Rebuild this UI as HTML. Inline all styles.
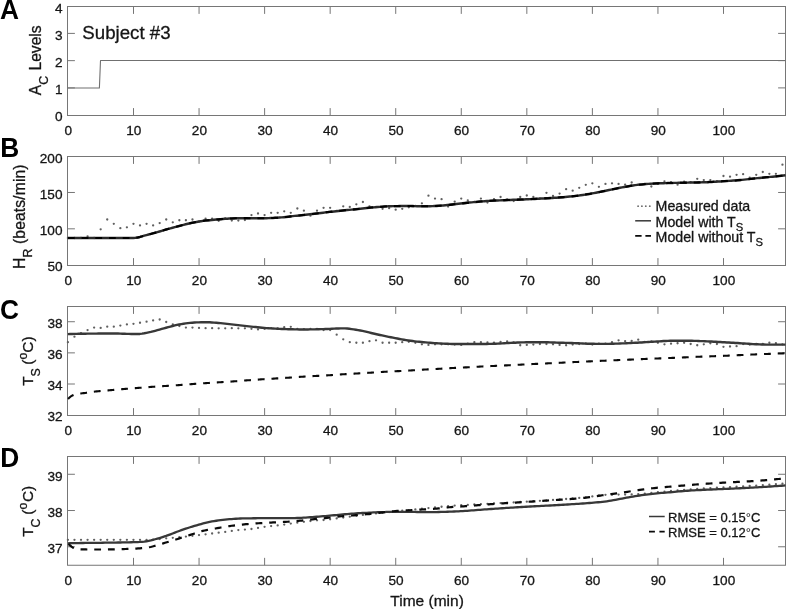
<!DOCTYPE html>
<html lang="en">
<head>
<meta charset="utf-8">
<title>Subject #3 model vs measured data</title>
<style>
html,body{margin:0;padding:0;background:#fff;}
body{width:786px;height:609px;overflow:hidden;font-family:"Liberation Sans",sans-serif;}
svg{display:block;}
</style>
</head>
<body>
<svg width="786" height="609" viewBox="0 0 786 609">
<rect width="786" height="609" fill="#fff"/>
<g font-family='"Liberation Sans", sans-serif'>
<g fill="none" stroke="#767676" stroke-width="1">
<path d="M133.5 115.5v-7.4M133.5 6.5v7.4M199.05 115.5v-7.4M199.05 6.5v7.4M264.61 115.5v-7.4M264.61 6.5v7.4M330.16 115.5v-7.4M330.16 6.5v7.4M395.72 115.5v-7.4M395.72 6.5v7.4M461.28 115.5v-7.4M461.28 6.5v7.4M526.83 115.5v-7.4M526.83 6.5v7.4M592.39 115.5v-7.4M592.39 6.5v7.4M657.94 115.5v-7.4M657.94 6.5v7.4M723.5 115.5v-7.4M723.5 6.5v7.4M67.5 87.9h7.4M785.5 87.9h-7.4M67.5 60.65h7.4M785.5 60.65h-7.4M67.5 33.4h7.4M785.5 33.4h-7.4"/>
<rect x="67.5" y="6.5" width="718" height="109"/>
</g>
<g font-size="13.6" fill="#151515" stroke="#151515" stroke-width="0.3">
<g text-anchor="middle">
<text x="68.3" y="135.4">0</text>
<text x="133.86" y="135.4">10</text>
<text x="199.41" y="135.4">20</text>
<text x="264.97" y="135.4">30</text>
<text x="330.52" y="135.4">40</text>
<text x="396.08" y="135.4">50</text>
<text x="461.64" y="135.4">60</text>
<text x="527.19" y="135.4">70</text>
<text x="592.75" y="135.4">80</text>
<text x="658.3" y="135.4">90</text>
<text x="723.86" y="135.4">100</text>
</g>
<g text-anchor="end">
<text x="62.5" y="121.1">0</text>
<text x="62.5" y="94.35">1</text>
<text x="62.5" y="67.1">2</text>
<text x="62.5" y="39.85">3</text>
<text x="62.5" y="12.6">4</text>
</g></g>
<g fill="none" stroke="#767676" stroke-width="1">
<path d="M133.5 265.5v-7.4M133.5 156.5v7.4M199.05 265.5v-7.4M199.05 156.5v7.4M264.61 265.5v-7.4M264.61 156.5v7.4M330.16 265.5v-7.4M330.16 156.5v7.4M395.72 265.5v-7.4M395.72 156.5v7.4M461.28 265.5v-7.4M461.28 156.5v7.4M526.83 265.5v-7.4M526.83 156.5v7.4M592.39 265.5v-7.4M592.39 156.5v7.4M657.94 265.5v-7.4M657.94 156.5v7.4M723.5 265.5v-7.4M723.5 156.5v7.4M67.5 228.82h7.4M785.5 228.82h-7.4M67.5 192.48h7.4M785.5 192.48h-7.4"/>
<rect x="67.5" y="156.5" width="718" height="109"/>
</g>
<g font-size="13.6" fill="#151515" stroke="#151515" stroke-width="0.3">
<g text-anchor="middle">
<text x="68.3" y="285.4">0</text>
<text x="133.86" y="285.4">10</text>
<text x="199.41" y="285.4">20</text>
<text x="264.97" y="285.4">30</text>
<text x="330.52" y="285.4">40</text>
<text x="396.08" y="285.4">50</text>
<text x="461.64" y="285.4">60</text>
<text x="527.19" y="285.4">70</text>
<text x="592.75" y="285.4">80</text>
<text x="658.3" y="285.4">90</text>
<text x="723.86" y="285.4">100</text>
</g>
<g text-anchor="end">
<text x="62.5" y="271.1">50</text>
<text x="62.5" y="235.27">100</text>
<text x="62.5" y="198.93">150</text>
<text x="62.5" y="162.6">200</text>
</g></g>
<g fill="none" stroke="#767676" stroke-width="1">
<path d="M133.5 415.5v-7.4M133.5 306.5v7.4M199.05 415.5v-7.4M199.05 306.5v7.4M264.61 415.5v-7.4M264.61 306.5v7.4M330.16 415.5v-7.4M330.16 306.5v7.4M395.72 415.5v-7.4M395.72 306.5v7.4M461.28 415.5v-7.4M461.28 306.5v7.4M526.83 415.5v-7.4M526.83 306.5v7.4M592.39 415.5v-7.4M592.39 306.5v7.4M657.94 415.5v-7.4M657.94 306.5v7.4M723.5 415.5v-7.4M723.5 306.5v7.4M67.5 384.01h7.4M785.5 384.01h-7.4M67.5 352.86h7.4M785.5 352.86h-7.4M67.5 321.72h7.4M785.5 321.72h-7.4"/>
<rect x="67.5" y="306.5" width="718" height="109"/>
</g>
<g font-size="13.6" fill="#151515" stroke="#151515" stroke-width="0.3">
<g text-anchor="middle">
<text x="68.3" y="435.4">0</text>
<text x="133.86" y="435.4">10</text>
<text x="199.41" y="435.4">20</text>
<text x="264.97" y="435.4">30</text>
<text x="330.52" y="435.4">40</text>
<text x="396.08" y="435.4">50</text>
<text x="461.64" y="435.4">60</text>
<text x="527.19" y="435.4">70</text>
<text x="592.75" y="435.4">80</text>
<text x="658.3" y="435.4">90</text>
<text x="723.86" y="435.4">100</text>
</g>
<g text-anchor="end">
<text x="62.5" y="421.1">32</text>
<text x="62.5" y="390.46">34</text>
<text x="62.5" y="359.31">36</text>
<text x="62.5" y="328.17">38</text>
</g></g>
<g fill="none" stroke="#767676" stroke-width="1">
<path d="M133.5 565.25v-7.4M133.5 456.5v7.4M199.05 565.25v-7.4M199.05 456.5v7.4M264.61 565.25v-7.4M264.61 456.5v7.4M330.16 565.25v-7.4M330.16 456.5v7.4M395.72 565.25v-7.4M395.72 456.5v7.4M461.28 565.25v-7.4M461.28 456.5v7.4M526.83 565.25v-7.4M526.83 456.5v7.4M592.39 565.25v-7.4M592.39 456.5v7.4M657.94 565.25v-7.4M657.94 456.5v7.4M723.5 565.25v-7.4M723.5 456.5v7.4M67.5 546.77h7.4M785.5 546.77h-7.4M67.5 510.52h7.4M785.5 510.52h-7.4M67.5 474.27h7.4M785.5 474.27h-7.4"/>
<rect x="67.5" y="456.5" width="718" height="108.75"/>
</g>
<g font-size="13.6" fill="#151515" stroke="#151515" stroke-width="0.3">
<g text-anchor="middle">
<text x="68.3" y="585.4">0</text>
<text x="133.86" y="585.4">10</text>
<text x="199.41" y="585.4">20</text>
<text x="264.97" y="585.4">30</text>
<text x="330.52" y="585.4">40</text>
<text x="396.08" y="585.4">50</text>
<text x="461.64" y="585.4">60</text>
<text x="527.19" y="585.4">70</text>
<text x="592.75" y="585.4">80</text>
<text x="658.3" y="585.4">90</text>
<text x="723.86" y="585.4">100</text>
</g>
<g text-anchor="end">
<text x="62.5" y="553.23">37</text>
<text x="62.5" y="516.98">38</text>
<text x="62.5" y="480.73">39</text>
</g></g>
<path d="M67.5 88H99.4L100.5 60.5H785.5" fill="none" stroke="#707070" stroke-width="1.1" stroke-linejoin="round"/>
<g fill="#606060">
<circle cx="67.9" cy="237.99" r="1.15"/>
<circle cx="74.46" cy="237.99" r="1.15"/>
<circle cx="81.01" cy="237.99" r="1.15"/>
<circle cx="87.57" cy="236.32" r="1.15"/>
<circle cx="94.12" cy="237.99" r="1.15"/>
<circle cx="100.68" cy="229.3" r="1.15"/>
<circle cx="107.23" cy="219.52" r="1.15"/>
<circle cx="113.79" cy="223.87" r="1.15"/>
<circle cx="120.34" cy="228.21" r="1.15"/>
<circle cx="126.9" cy="227.34" r="1.15"/>
<circle cx="133.46" cy="223.87" r="1.15"/>
<circle cx="140.01" cy="225.39" r="1.15"/>
<circle cx="146.57" cy="223.87" r="1.15"/>
<circle cx="153.12" cy="225.39" r="1.15"/>
<circle cx="159.68" cy="223.07" r="1.15"/>
<circle cx="166.23" cy="219.52" r="1.15"/>
<circle cx="172.79" cy="222.35" r="1.15"/>
<circle cx="179.35" cy="220.25" r="1.15"/>
<circle cx="185.9" cy="220.25" r="1.15"/>
<circle cx="192.46" cy="219.52" r="1.15"/>
<circle cx="199.01" cy="221.7" r="1.15"/>
<circle cx="205.57" cy="218.73" r="1.15"/>
<circle cx="212.12" cy="218.73" r="1.15"/>
<circle cx="218.68" cy="220.83" r="1.15"/>
<circle cx="225.23" cy="218.44" r="1.15"/>
<circle cx="231.79" cy="220.61" r="1.15"/>
<circle cx="238.35" cy="220.61" r="1.15"/>
<circle cx="244.9" cy="220.03" r="1.15"/>
<circle cx="251.46" cy="215.03" r="1.15"/>
<circle cx="258.01" cy="213.51" r="1.15"/>
<circle cx="264.57" cy="215.03" r="1.15"/>
<circle cx="271.12" cy="212.86" r="1.15"/>
<circle cx="277.68" cy="212.86" r="1.15"/>
<circle cx="284.23" cy="211.34" r="1.15"/>
<circle cx="290.79" cy="212.86" r="1.15"/>
<circle cx="297.35" cy="208.52" r="1.15"/>
<circle cx="303.9" cy="210.69" r="1.15"/>
<circle cx="310.46" cy="215.69" r="1.15"/>
<circle cx="317.01" cy="210.69" r="1.15"/>
<circle cx="323.57" cy="207.87" r="1.15"/>
<circle cx="330.12" cy="207.79" r="1.15"/>
<circle cx="336.68" cy="210.84" r="1.15"/>
<circle cx="343.24" cy="206.35" r="1.15"/>
<circle cx="349.79" cy="207" r="1.15"/>
<circle cx="356.35" cy="204.32" r="1.15"/>
<circle cx="362.9" cy="202" r="1.15"/>
<circle cx="369.46" cy="206.35" r="1.15"/>
<circle cx="376.01" cy="206.85" r="1.15"/>
<circle cx="382.57" cy="208.81" r="1.15"/>
<circle cx="389.12" cy="208.16" r="1.15"/>
<circle cx="395.68" cy="209.68" r="1.15"/>
<circle cx="402.24" cy="208.81" r="1.15"/>
<circle cx="408.79" cy="207.36" r="1.15"/>
<circle cx="415.35" cy="205.84" r="1.15"/>
<circle cx="421.9" cy="203.3" r="1.15"/>
<circle cx="428.46" cy="195.7" r="1.15"/>
<circle cx="435.01" cy="198.53" r="1.15"/>
<circle cx="441.57" cy="199.18" r="1.15"/>
<circle cx="448.12" cy="206.49" r="1.15"/>
<circle cx="454.68" cy="201.71" r="1.15"/>
<circle cx="461.24" cy="198.53" r="1.15"/>
<circle cx="467.79" cy="200.34" r="1.15"/>
<circle cx="474.35" cy="201.78" r="1.15"/>
<circle cx="480.9" cy="198.53" r="1.15"/>
<circle cx="487.46" cy="202.51" r="1.15"/>
<circle cx="494.01" cy="199.18" r="1.15"/>
<circle cx="500.57" cy="197" r="1.15"/>
<circle cx="507.13" cy="199.39" r="1.15"/>
<circle cx="513.68" cy="201.06" r="1.15"/>
<circle cx="520.24" cy="197" r="1.15"/>
<circle cx="526.79" cy="195.48" r="1.15"/>
<circle cx="533.35" cy="197" r="1.15"/>
<circle cx="539.9" cy="198.31" r="1.15"/>
<circle cx="546.46" cy="192.8" r="1.15"/>
<circle cx="553.01" cy="195.99" r="1.15"/>
<circle cx="559.57" cy="193.53" r="1.15"/>
<circle cx="566.13" cy="189.18" r="1.15"/>
<circle cx="572.68" cy="190.7" r="1.15"/>
<circle cx="579.24" cy="187.81" r="1.15"/>
<circle cx="585.79" cy="184.84" r="1.15"/>
<circle cx="592.35" cy="183.32" r="1.15"/>
<circle cx="598.9" cy="186.79" r="1.15"/>
<circle cx="605.46" cy="183.97" r="1.15"/>
<circle cx="612.01" cy="183.32" r="1.15"/>
<circle cx="618.57" cy="183.97" r="1.15"/>
<circle cx="625.13" cy="184.69" r="1.15"/>
<circle cx="631.68" cy="182.52" r="1.15"/>
<circle cx="638.24" cy="184.55" r="1.15"/>
<circle cx="644.79" cy="183.83" r="1.15"/>
<circle cx="651.35" cy="186.5" r="1.15"/>
<circle cx="657.9" cy="183.97" r="1.15"/>
<circle cx="664.46" cy="181.29" r="1.15"/>
<circle cx="671.02" cy="182.23" r="1.15"/>
<circle cx="677.57" cy="184.69" r="1.15"/>
<circle cx="684.13" cy="181.65" r="1.15"/>
<circle cx="690.68" cy="182.23" r="1.15"/>
<circle cx="697.24" cy="178.83" r="1.15"/>
<circle cx="703.79" cy="180.06" r="1.15"/>
<circle cx="710.35" cy="180.06" r="1.15"/>
<circle cx="716.9" cy="181.22" r="1.15"/>
<circle cx="723.46" cy="176.01" r="1.15"/>
<circle cx="730.02" cy="176.66" r="1.15"/>
<circle cx="736.57" cy="174.85" r="1.15"/>
<circle cx="743.13" cy="174.2" r="1.15"/>
<circle cx="749.68" cy="177.53" r="1.15"/>
<circle cx="756.24" cy="174.85" r="1.15"/>
<circle cx="762.79" cy="172.02" r="1.15"/>
<circle cx="769.35" cy="173.83" r="1.15"/>
<circle cx="775.9" cy="173.83" r="1.15"/>
<circle cx="782.46" cy="164.71" r="1.15"/>
</g>
<path d="M67.9 238 L70.08 238 L72.26 238 L74.45 238 L76.63 238 L78.81 238 L80.99 238 L83.17 238 L85.36 238 L87.54 238 L89.72 238 L91.9 238 L94.08 238 L96.26 238 L98.45 238 L100.63 238 L102.81 238 L104.99 238 L107.17 238 L109.36 238 L111.54 238 L113.72 238 L115.9 238 L118.08 238 L120.27 238 L122.45 238 L124.63 238 L126.81 238 L128.99 238 L131.17 238 L133.36 237.92 L135.54 237.77 L137.72 237.43 L139.9 236.94 L142.08 236.35 L144.27 235.68 L146.45 235.07 L148.63 234.49 L150.81 233.92 L152.99 233.35 L155.18 232.76 L157.36 232.14 L159.54 231.49 L161.72 230.82 L163.9 230.16 L166.08 229.53 L168.27 228.92 L170.45 228.32 L172.63 227.73 L174.81 227.15 L176.99 226.56 L179.18 225.97 L181.36 225.39 L183.54 224.82 L185.72 224.28 L187.9 223.78 L190.09 223.28 L192.27 222.81 L194.45 222.37 L196.63 221.95 L198.81 221.56 L200.99 221.18 L203.18 220.84 L205.36 220.57 L207.54 220.36 L209.72 220.17 L211.9 219.99 L214.09 219.79 L216.27 219.58 L218.45 219.36 L220.63 219.16 L222.81 218.96 L225 218.79 L227.18 218.66 L229.36 218.56 L231.54 218.47 L233.72 218.39 L235.9 218.32 L238.09 218.26 L240.27 218.21 L242.45 218.17 L244.63 218.16 L246.81 218.16 L249 218.18 L251.18 218.2 L253.36 218.23 L255.54 218.26 L257.72 218.28 L259.91 218.3 L262.09 218.3 L264.27 218.28 L266.45 218.23 L268.63 218.15 L270.81 218.05 L273 217.94 L275.18 217.81 L277.36 217.68 L279.54 217.54 L281.72 217.38 L283.91 217.17 L286.09 216.93 L288.27 216.67 L290.45 216.41 L292.63 216.15 L294.82 215.9 L297 215.67 L299.18 215.45 L301.36 215.22 L303.54 214.99 L305.72 214.77 L307.91 214.53 L310.09 214.29 L312.27 214.05 L314.45 213.78 L316.63 213.5 L318.82 213.22 L321 212.94 L323.18 212.66 L325.36 212.39 L327.54 212.14 L329.73 211.9 L331.91 211.66 L334.09 211.43 L336.27 211.2 L338.45 210.98 L340.63 210.75 L342.82 210.53 L345 210.3 L347.18 210.08 L349.36 209.86 L351.54 209.63 L353.73 209.41 L355.91 209.19 L358.09 208.97 L360.27 208.75 L362.45 208.52 L364.64 208.28 L366.82 208.04 L369 207.8 L371.18 207.58 L373.36 207.37 L375.54 207.19 L377.73 207.02 L379.91 206.85 L382.09 206.68 L384.27 206.52 L386.45 206.38 L388.64 206.26 L390.82 206.18 L393 206.14 L395.18 206.12 L397.36 206.11 L399.55 206.09 L401.73 206.08 L403.91 206.08 L406.09 206.07 L408.27 206.07 L410.46 206.07 L412.64 206.09 L414.82 206.12 L417 206.16 L419.18 206.2 L421.36 206.24 L423.55 206.27 L425.73 206.28 L427.91 206.27 L430.09 206.23 L432.27 206.14 L434.46 206.04 L436.64 205.91 L438.82 205.76 L441 205.61 L443.18 205.47 L445.37 205.29 L447.55 205.08 L449.73 204.84 L451.91 204.59 L454.09 204.33 L456.27 204.08 L458.46 203.84 L460.64 203.59 L462.82 203.34 L465 203.09 L467.18 202.84 L469.37 202.59 L471.55 202.36 L473.73 202.14 L475.91 201.94 L478.09 201.74 L480.28 201.55 L482.46 201.37 L484.64 201.19 L486.82 201.03 L489 200.88 L491.18 200.76 L493.37 200.64 L495.55 200.53 L497.73 200.44 L499.91 200.35 L502.09 200.26 L504.28 200.17 L506.46 200.08 L508.64 200 L510.82 199.91 L513 199.83 L515.19 199.75 L517.37 199.67 L519.55 199.59 L521.73 199.51 L523.91 199.42 L526.09 199.32 L528.28 199.22 L530.46 199.12 L532.64 199.01 L534.82 198.91 L537 198.79 L539.19 198.68 L541.37 198.56 L543.55 198.45 L545.73 198.33 L547.91 198.21 L550.1 198.08 L552.28 197.95 L554.46 197.81 L556.64 197.66 L558.82 197.51 L561 197.34 L563.19 197.17 L565.37 196.99 L567.55 196.79 L569.73 196.58 L571.91 196.37 L574.1 196.13 L576.28 195.88 L578.46 195.61 L580.64 195.31 L582.82 194.99 L585.01 194.66 L587.19 194.32 L589.37 193.96 L591.55 193.58 L593.73 193.17 L595.91 192.74 L598.1 192.29 L600.28 191.85 L602.46 191.4 L604.64 190.95 L606.82 190.51 L609.01 190.06 L611.19 189.6 L613.37 189.14 L615.55 188.69 L617.73 188.25 L619.92 187.82 L622.1 187.41 L624.28 187.01 L626.46 186.61 L628.64 186.21 L630.82 185.83 L633.01 185.47 L635.19 185.15 L637.37 184.87 L639.55 184.64 L641.73 184.43 L643.92 184.23 L646.1 184.05 L648.28 183.88 L650.46 183.73 L652.64 183.6 L654.83 183.49 L657.01 183.4 L659.19 183.32 L661.37 183.25 L663.55 183.18 L665.73 183.12 L667.92 183.06 L670.1 183.01 L672.28 182.95 L674.46 182.9 L676.64 182.85 L678.83 182.81 L681.01 182.76 L683.19 182.72 L685.37 182.67 L687.55 182.63 L689.74 182.58 L691.92 182.54 L694.1 182.5 L696.28 182.46 L698.46 182.41 L700.64 182.36 L702.83 182.31 L705.01 182.25 L707.19 182.17 L709.37 182.07 L711.55 181.95 L713.74 181.82 L715.92 181.68 L718.1 181.54 L720.28 181.41 L722.46 181.28 L724.65 181.15 L726.83 181.01 L729.01 180.88 L731.19 180.74 L733.37 180.59 L735.55 180.43 L737.74 180.26 L739.92 180.08 L742.1 179.87 L744.28 179.64 L746.46 179.39 L748.65 179.13 L750.83 178.87 L753.01 178.61 L755.19 178.37 L757.37 178.15 L759.56 177.93 L761.74 177.72 L763.92 177.51 L766.1 177.3 L768.28 177.1 L770.47 176.88 L772.65 176.67 L774.83 176.44 L777.01 176.22 L779.19 175.99 L781.37 175.76 L783.56 175.53 L785.5 175.29" fill="none" stroke="#2a2a2a" stroke-width="2.45" stroke-linejoin="round"/>
<path d="M67.9 238 L70.08 238 L72.26 238 L74.45 238 L76.63 238 L78.81 238 L80.99 238 L83.17 238 L85.36 238 L87.54 238 L89.72 238 L91.9 238 L94.08 238 L96.26 238 L98.45 238 L100.63 238 L102.81 238 L104.99 238 L107.17 238 L109.36 238 L111.54 238 L113.72 238 L115.9 238 L118.08 238 L120.27 238 L122.45 238 L124.63 238 L126.81 238 L128.99 238 L131.17 238 L133.36 237.92 L135.54 237.77 L137.72 237.43 L139.9 236.94 L142.08 236.35 L144.27 235.68 L146.45 235.07 L148.63 234.49 L150.81 233.92 L152.99 233.35 L155.18 232.76 L157.36 232.14 L159.54 231.49 L161.72 230.82 L163.9 230.16 L166.08 229.53 L168.27 228.92 L170.45 228.32 L172.63 227.73 L174.81 227.15 L176.99 226.56 L179.18 225.97 L181.36 225.39 L183.54 224.82 L185.72 224.28 L187.9 223.78 L190.09 223.28 L192.27 222.81 L194.45 222.37 L196.63 221.95 L198.81 221.56 L200.99 221.18 L203.18 220.84 L205.36 220.57 L207.54 220.36 L209.72 220.17 L211.9 219.99 L214.09 219.79 L216.27 219.58 L218.45 219.36 L220.63 219.16 L222.81 218.96 L225 218.79 L227.18 218.66 L229.36 218.56 L231.54 218.47 L233.72 218.39 L235.9 218.32 L238.09 218.26 L240.27 218.21 L242.45 218.17 L244.63 218.16 L246.81 218.16 L249 218.18 L251.18 218.2 L253.36 218.23 L255.54 218.26 L257.72 218.28 L259.91 218.3 L262.09 218.3 L264.27 218.28 L266.45 218.23 L268.63 218.15 L270.81 218.05 L273 217.94 L275.18 217.81 L277.36 217.68 L279.54 217.54 L281.72 217.38 L283.91 217.17 L286.09 216.93 L288.27 216.67 L290.45 216.41 L292.63 216.15 L294.82 215.9 L297 215.67 L299.18 215.45 L301.36 215.22 L303.54 214.99 L305.72 214.77 L307.91 214.53 L310.09 214.29 L312.27 214.05 L314.45 213.78 L316.63 213.5 L318.82 213.22 L321 212.94 L323.18 212.66 L325.36 212.39 L327.54 212.14 L329.73 211.9 L331.91 211.66 L334.09 211.43 L336.27 211.2 L338.45 210.98 L340.63 210.75 L342.82 210.53 L345 210.3 L347.18 210.08 L349.36 209.86 L351.54 209.63 L353.73 209.41 L355.91 209.19 L358.09 208.97 L360.27 208.75 L362.45 208.52 L364.64 208.28 L366.82 208.04 L369 207.8 L371.18 207.58 L373.36 207.37 L375.54 207.19 L377.73 207.02 L379.91 206.85 L382.09 206.68 L384.27 206.52 L386.45 206.38 L388.64 206.26 L390.82 206.18 L393 206.14 L395.18 206.12 L397.36 206.11 L399.55 206.09 L401.73 206.08 L403.91 206.08 L406.09 206.07 L408.27 206.07 L410.46 206.07 L412.64 206.09 L414.82 206.12 L417 206.16 L419.18 206.2 L421.36 206.24 L423.55 206.27 L425.73 206.28 L427.91 206.27 L430.09 206.23 L432.27 206.14 L434.46 206.04 L436.64 205.91 L438.82 205.76 L441 205.61 L443.18 205.47 L445.37 205.29 L447.55 205.08 L449.73 204.84 L451.91 204.59 L454.09 204.33 L456.27 204.08 L458.46 203.84 L460.64 203.59 L462.82 203.34 L465 203.09 L467.18 202.84 L469.37 202.59 L471.55 202.36 L473.73 202.14 L475.91 201.94 L478.09 201.74 L480.28 201.55 L482.46 201.37 L484.64 201.19 L486.82 201.03 L489 200.88 L491.18 200.76 L493.37 200.64 L495.55 200.53 L497.73 200.44 L499.91 200.35 L502.09 200.26 L504.28 200.17 L506.46 200.08 L508.64 200 L510.82 199.91 L513 199.83 L515.19 199.75 L517.37 199.67 L519.55 199.59 L521.73 199.51 L523.91 199.42 L526.09 199.32 L528.28 199.22 L530.46 199.12 L532.64 199.01 L534.82 198.91 L537 198.79 L539.19 198.68 L541.37 198.56 L543.55 198.45 L545.73 198.33 L547.91 198.21 L550.1 198.08 L552.28 197.95 L554.46 197.81 L556.64 197.66 L558.82 197.51 L561 197.34 L563.19 197.17 L565.37 196.99 L567.55 196.79 L569.73 196.58 L571.91 196.37 L574.1 196.13 L576.28 195.88 L578.46 195.61 L580.64 195.31 L582.82 194.99 L585.01 194.66 L587.19 194.32 L589.37 193.96 L591.55 193.58 L593.73 193.17 L595.91 192.74 L598.1 192.29 L600.28 191.85 L602.46 191.4 L604.64 190.95 L606.82 190.51 L609.01 190.06 L611.19 189.6 L613.37 189.14 L615.55 188.69 L617.73 188.25 L619.92 187.82 L622.1 187.41 L624.28 187.01 L626.46 186.61 L628.64 186.21 L630.82 185.83 L633.01 185.47 L635.19 185.15 L637.37 184.87 L639.55 184.64 L641.73 184.43 L643.92 184.23 L646.1 184.05 L648.28 183.88 L650.46 183.73 L652.64 183.6 L654.83 183.49 L657.01 183.4 L659.19 183.32 L661.37 183.25 L663.55 183.18 L665.73 183.12 L667.92 183.06 L670.1 183.01 L672.28 182.95 L674.46 182.9 L676.64 182.85 L678.83 182.81 L681.01 182.76 L683.19 182.72 L685.37 182.67 L687.55 182.63 L689.74 182.58 L691.92 182.54 L694.1 182.5 L696.28 182.46 L698.46 182.41 L700.64 182.36 L702.83 182.31 L705.01 182.25 L707.19 182.17 L709.37 182.07 L711.55 181.95 L713.74 181.82 L715.92 181.68 L718.1 181.54 L720.28 181.41 L722.46 181.28 L724.65 181.15 L726.83 181.01 L729.01 180.88 L731.19 180.74 L733.37 180.59 L735.55 180.43 L737.74 180.26 L739.92 180.08 L742.1 179.87 L744.28 179.64 L746.46 179.39 L748.65 179.13 L750.83 178.87 L753.01 178.61 L755.19 178.37 L757.37 178.15 L759.56 177.93 L761.74 177.72 L763.92 177.51 L766.1 177.3 L768.28 177.1 L770.47 176.88 L772.65 176.67 L774.83 176.44 L777.01 176.22 L779.19 175.99 L781.37 175.76 L783.56 175.53 L785.5 175.29" fill="none" stroke="#000" stroke-width="2.1" stroke-dasharray="6.8 6.9" stroke-linejoin="round"/>
<g fill="#606060">
<circle cx="67.9" cy="342.14" r="1.15"/>
<circle cx="74.46" cy="336.72" r="1.15"/>
<circle cx="81.01" cy="333.15" r="1.15"/>
<circle cx="87.57" cy="330.05" r="1.15"/>
<circle cx="94.12" cy="327.57" r="1.15"/>
<circle cx="100.68" cy="327.88" r="1.15"/>
<circle cx="107.23" cy="326.64" r="1.15"/>
<circle cx="113.79" cy="326.64" r="1.15"/>
<circle cx="120.34" cy="325.56" r="1.15"/>
<circle cx="126.9" cy="324.47" r="1.15"/>
<circle cx="133.46" cy="323.85" r="1.15"/>
<circle cx="140.01" cy="322.77" r="1.15"/>
<circle cx="146.57" cy="321.68" r="1.15"/>
<circle cx="153.12" cy="320.44" r="1.15"/>
<circle cx="159.68" cy="319.51" r="1.15"/>
<circle cx="166.23" cy="321.99" r="1.15"/>
<circle cx="172.79" cy="324.47" r="1.15"/>
<circle cx="179.35" cy="326.02" r="1.15"/>
<circle cx="185.9" cy="327.57" r="1.15"/>
<circle cx="192.46" cy="327.57" r="1.15"/>
<circle cx="199.01" cy="327.88" r="1.15"/>
<circle cx="205.57" cy="328.19" r="1.15"/>
<circle cx="212.12" cy="328.19" r="1.15"/>
<circle cx="218.68" cy="328.35" r="1.15"/>
<circle cx="225.23" cy="328.35" r="1.15"/>
<circle cx="231.79" cy="328.19" r="1.15"/>
<circle cx="238.35" cy="328.35" r="1.15"/>
<circle cx="244.9" cy="328.35" r="1.15"/>
<circle cx="251.46" cy="328.81" r="1.15"/>
<circle cx="258.01" cy="329.43" r="1.15"/>
<circle cx="264.57" cy="328.97" r="1.15"/>
<circle cx="271.12" cy="328.19" r="1.15"/>
<circle cx="277.68" cy="328.5" r="1.15"/>
<circle cx="284.23" cy="327.26" r="1.15"/>
<circle cx="290.79" cy="326.8" r="1.15"/>
<circle cx="297.35" cy="328.81" r="1.15"/>
<circle cx="303.9" cy="329.12" r="1.15"/>
<circle cx="310.46" cy="328.97" r="1.15"/>
<circle cx="317.01" cy="328.81" r="1.15"/>
<circle cx="323.57" cy="330.05" r="1.15"/>
<circle cx="330.12" cy="330.05" r="1.15"/>
<circle cx="336.68" cy="334.7" r="1.15"/>
<circle cx="343.24" cy="339.35" r="1.15"/>
<circle cx="349.79" cy="342.14" r="1.15"/>
<circle cx="356.35" cy="342.76" r="1.15"/>
<circle cx="362.9" cy="342.76" r="1.15"/>
<circle cx="369.46" cy="341.21" r="1.15"/>
<circle cx="376.01" cy="340.28" r="1.15"/>
<circle cx="382.57" cy="342.76" r="1.15"/>
<circle cx="389.12" cy="342.76" r="1.15"/>
<circle cx="395.68" cy="342.76" r="1.15"/>
<circle cx="402.24" cy="342.14" r="1.15"/>
<circle cx="408.79" cy="341.83" r="1.15"/>
<circle cx="415.35" cy="342.76" r="1.15"/>
<circle cx="421.9" cy="344.31" r="1.15"/>
<circle cx="428.46" cy="344.93" r="1.15"/>
<circle cx="435.01" cy="344.31" r="1.15"/>
<circle cx="441.57" cy="344.31" r="1.15"/>
<circle cx="448.12" cy="344.31" r="1.15"/>
<circle cx="454.68" cy="344.62" r="1.15"/>
<circle cx="461.24" cy="344.93" r="1.15"/>
<circle cx="467.79" cy="343.69" r="1.15"/>
<circle cx="474.35" cy="342.14" r="1.15"/>
<circle cx="480.9" cy="342.14" r="1.15"/>
<circle cx="487.46" cy="342.45" r="1.15"/>
<circle cx="494.01" cy="342.76" r="1.15"/>
<circle cx="500.57" cy="341.83" r="1.15"/>
<circle cx="507.13" cy="341.52" r="1.15"/>
<circle cx="513.68" cy="342.45" r="1.15"/>
<circle cx="520.24" cy="345.24" r="1.15"/>
<circle cx="526.79" cy="344.93" r="1.15"/>
<circle cx="533.35" cy="344.62" r="1.15"/>
<circle cx="539.9" cy="344" r="1.15"/>
<circle cx="546.46" cy="344" r="1.15"/>
<circle cx="553.01" cy="344.31" r="1.15"/>
<circle cx="559.57" cy="344.93" r="1.15"/>
<circle cx="566.13" cy="345.24" r="1.15"/>
<circle cx="572.68" cy="344.62" r="1.15"/>
<circle cx="579.24" cy="344" r="1.15"/>
<circle cx="585.79" cy="343.38" r="1.15"/>
<circle cx="592.35" cy="344.62" r="1.15"/>
<circle cx="598.9" cy="343.53" r="1.15"/>
<circle cx="605.46" cy="343.53" r="1.15"/>
<circle cx="612.01" cy="342.14" r="1.15"/>
<circle cx="618.57" cy="340.28" r="1.15"/>
<circle cx="625.13" cy="341.21" r="1.15"/>
<circle cx="631.68" cy="340.9" r="1.15"/>
<circle cx="638.24" cy="339.66" r="1.15"/>
<circle cx="644.79" cy="341.83" r="1.15"/>
<circle cx="651.35" cy="341.52" r="1.15"/>
<circle cx="657.9" cy="342.76" r="1.15"/>
<circle cx="664.46" cy="344.31" r="1.15"/>
<circle cx="671.02" cy="343.69" r="1.15"/>
<circle cx="677.57" cy="343.23" r="1.15"/>
<circle cx="684.13" cy="342.76" r="1.15"/>
<circle cx="690.68" cy="344" r="1.15"/>
<circle cx="697.24" cy="345.24" r="1.15"/>
<circle cx="703.79" cy="344.31" r="1.15"/>
<circle cx="710.35" cy="343.23" r="1.15"/>
<circle cx="716.9" cy="344" r="1.15"/>
<circle cx="723.46" cy="346.79" r="1.15"/>
<circle cx="730.02" cy="346.48" r="1.15"/>
<circle cx="736.57" cy="346.17" r="1.15"/>
<circle cx="743.13" cy="344" r="1.15"/>
<circle cx="749.68" cy="344.62" r="1.15"/>
<circle cx="756.24" cy="344" r="1.15"/>
<circle cx="762.79" cy="344" r="1.15"/>
<circle cx="769.35" cy="342.76" r="1.15"/>
<circle cx="775.9" cy="343.23" r="1.15"/>
<circle cx="782.46" cy="344.31" r="1.15"/>
</g>
<path d="M67.9 334.12 L70.08 334.05 L72.26 333.99 L74.45 333.92 L76.63 333.86 L78.81 333.81 L80.99 333.76 L83.17 333.72 L85.36 333.68 L87.54 333.66 L89.72 333.63 L91.9 333.61 L94.08 333.6 L96.26 333.58 L98.45 333.56 L100.63 333.55 L102.81 333.53 L104.99 333.52 L107.17 333.51 L109.36 333.51 L111.54 333.5 L113.72 333.5 L115.9 333.51 L118.08 333.56 L120.27 333.62 L122.45 333.69 L124.63 333.77 L126.81 333.84 L128.99 333.9 L131.17 333.95 L133.36 333.96 L135.54 333.96 L137.72 333.96 L139.9 333.93 L142.08 333.68 L144.27 333.3 L146.45 332.85 L148.63 332.42 L150.81 331.94 L152.99 331.39 L155.18 330.79 L157.36 330.17 L159.54 329.53 L161.72 328.91 L163.9 328.32 L166.08 327.75 L168.27 327.16 L170.45 326.56 L172.63 325.97 L174.81 325.41 L176.99 324.9 L179.18 324.46 L181.36 324.09 L183.54 323.75 L185.72 323.43 L187.9 323.14 L190.09 322.89 L192.27 322.68 L194.45 322.53 L196.63 322.42 L198.81 322.33 L200.99 322.26 L203.18 322.21 L205.36 322.19 L207.54 322.21 L209.72 322.3 L211.9 322.44 L214.09 322.61 L216.27 322.8 L218.45 322.99 L220.63 323.17 L222.81 323.37 L225 323.59 L227.18 323.83 L229.36 324.08 L231.54 324.34 L233.72 324.59 L235.9 324.85 L238.09 325.09 L240.27 325.34 L242.45 325.6 L244.63 325.86 L246.81 326.11 L249 326.36 L251.18 326.6 L253.36 326.83 L255.54 327.05 L257.72 327.27 L259.91 327.49 L262.09 327.71 L264.27 327.91 L266.45 328.09 L268.63 328.26 L270.81 328.41 L273 328.54 L275.18 328.66 L277.36 328.78 L279.54 328.89 L281.72 328.98 L283.91 329.07 L286.09 329.14 L288.27 329.2 L290.45 329.25 L292.63 329.31 L294.82 329.36 L297 329.4 L299.18 329.44 L301.36 329.46 L303.54 329.47 L305.72 329.46 L307.91 329.45 L310.09 329.42 L312.27 329.38 L314.45 329.33 L316.63 329.27 L318.82 329.21 L321 329.15 L323.18 329.09 L325.36 329.03 L327.54 328.96 L329.73 328.88 L331.91 328.77 L334.09 328.67 L336.27 328.57 L338.45 328.48 L340.63 328.41 L342.82 328.39 L345 328.42 L347.18 328.56 L349.36 328.79 L351.54 329.08 L353.73 329.42 L355.91 329.78 L358.09 330.15 L360.27 330.51 L362.45 330.92 L364.64 331.38 L366.82 331.9 L369 332.43 L371.18 332.98 L373.36 333.51 L375.54 334.02 L377.73 334.49 L379.91 334.97 L382.09 335.44 L384.27 335.9 L386.45 336.36 L388.64 336.81 L390.82 337.25 L393 337.67 L395.18 338.1 L397.36 338.53 L399.55 338.95 L401.73 339.36 L403.91 339.76 L406.09 340.13 L408.27 340.46 L410.46 340.77 L412.64 341.05 L414.82 341.32 L417 341.57 L419.18 341.8 L421.36 342.03 L423.55 342.23 L425.73 342.43 L427.91 342.61 L430.09 342.78 L432.27 342.94 L434.46 343.1 L436.64 343.24 L438.82 343.37 L441 343.49 L443.18 343.59 L445.37 343.68 L447.55 343.78 L449.73 343.87 L451.91 343.95 L454.09 344.01 L456.27 344.04 L458.46 344.04 L460.64 344.04 L462.82 344.04 L465 344.04 L467.18 344.04 L469.37 344.04 L471.55 344.04 L473.73 344.04 L475.91 344.04 L478.09 344.03 L480.28 344.02 L482.46 344 L484.64 343.97 L486.82 343.94 L489 343.91 L491.18 343.88 L493.37 343.82 L495.55 343.73 L497.73 343.63 L499.91 343.51 L502.09 343.38 L504.28 343.26 L506.46 343.14 L508.64 343.04 L510.82 342.92 L513 342.8 L515.19 342.68 L517.37 342.57 L519.55 342.47 L521.73 342.39 L523.91 342.34 L526.09 342.31 L528.28 342.27 L530.46 342.25 L532.64 342.22 L534.82 342.2 L537 342.19 L539.19 342.18 L541.37 342.18 L543.55 342.21 L545.73 342.25 L547.91 342.31 L550.1 342.39 L552.28 342.47 L554.46 342.55 L556.64 342.62 L558.82 342.68 L561 342.74 L563.19 342.79 L565.37 342.85 L567.55 342.91 L569.73 342.97 L571.91 343.04 L574.1 343.11 L576.28 343.2 L578.46 343.31 L580.64 343.42 L582.82 343.54 L585.01 343.63 L587.19 343.7 L589.37 343.74 L591.55 343.78 L593.73 343.8 L595.91 343.83 L598.1 343.85 L600.28 343.87 L602.46 343.88 L604.64 343.88 L606.82 343.88 L609.01 343.85 L611.19 343.8 L613.37 343.73 L615.55 343.66 L617.73 343.58 L619.92 343.49 L622.1 343.41 L624.28 343.33 L626.46 343.24 L628.64 343.14 L630.82 343.03 L633.01 342.92 L635.19 342.81 L637.37 342.69 L639.55 342.57 L641.73 342.44 L643.92 342.3 L646.1 342.15 L648.28 342 L650.46 341.85 L652.64 341.71 L654.83 341.59 L657.01 341.46 L659.19 341.33 L661.37 341.19 L663.55 341.06 L665.73 340.94 L667.92 340.85 L670.1 340.8 L672.28 340.79 L674.46 340.79 L676.64 340.79 L678.83 340.79 L681.01 340.79 L683.19 340.79 L685.37 340.79 L687.55 340.79 L689.74 340.79 L691.92 340.81 L694.1 340.86 L696.28 340.92 L698.46 341 L700.64 341.08 L702.83 341.16 L705.01 341.25 L707.19 341.34 L709.37 341.44 L711.55 341.56 L713.74 341.68 L715.92 341.81 L718.1 341.94 L720.28 342.07 L722.46 342.2 L724.65 342.32 L726.83 342.44 L729.01 342.56 L731.19 342.68 L733.37 342.81 L735.55 342.93 L737.74 343.06 L739.92 343.2 L742.1 343.34 L744.28 343.5 L746.46 343.65 L748.65 343.81 L750.83 343.95 L753.01 344.08 L755.19 344.18 L757.37 344.27 L759.56 344.35 L761.74 344.44 L763.92 344.51 L766.1 344.58 L768.28 344.63 L770.47 344.65 L772.65 344.66 L774.83 344.66 L777.01 344.66 L779.19 344.66 L781.37 344.66 L783.56 344.66 L785.5 344.66" fill="none" stroke="#383838" stroke-width="2.4" stroke-linejoin="round"/>
<path d="M67.9 399.15 L69.34 397.63 L70.78 396.48 L72.22 395.55 L73.66 394.91 L75.1 394.46 L76.54 394.12 L77.97 393.86 L79.41 393.66 L80.85 393.49 L82.29 393.32 L83.73 393.13 L85.17 392.93 L86.61 392.72 L88.05 392.51 L89.49 392.3 L90.93 392.1 L92.37 391.9 L93.81 391.71 L95.25 391.53 L96.68 391.37 L98.12 391.23 L99.56 391.09 L101 390.97 L102.44 390.85 L103.88 390.73 L105.32 390.62 L106.76 390.5 L108.2 390.39 L109.64 390.27 L111.08 390.15 L112.52 390.02 L113.96 389.89 L115.39 389.76 L116.83 389.63 L118.27 389.49 L119.71 389.36 L121.15 389.24 L122.59 389.11 L124.03 389 L125.47 388.88 L126.91 388.77 L128.35 388.66 L129.79 388.55 L131.23 388.45 L132.67 388.34 L134.1 388.24 L135.54 388.13 L136.98 388.02 L138.42 387.91 L139.86 387.8 L141.3 387.68 L142.74 387.56 L144.18 387.44 L145.62 387.32 L147.06 387.21 L148.5 387.09 L149.94 386.98 L151.38 386.88 L152.81 386.78 L154.25 386.69 L155.69 386.59 L157.13 386.51 L158.57 386.42 L160.01 386.33 L161.45 386.25 L162.89 386.16 L164.33 386.07 L165.77 385.98 L167.21 385.89 L168.65 385.79 L170.09 385.7 L171.52 385.6 L172.96 385.5 L174.4 385.41 L175.84 385.31 L177.28 385.21 L178.72 385.1 L180.16 385 L181.6 384.89 L183.04 384.78 L184.48 384.66 L185.92 384.55 L187.36 384.44 L188.8 384.32 L190.23 384.21 L191.67 384.1 L193.11 384 L194.55 383.9 L195.99 383.8 L197.43 383.7 L198.87 383.6 L200.31 383.5 L201.75 383.41 L203.19 383.31 L204.63 383.22 L206.07 383.12 L207.51 383.03 L208.94 382.94 L210.38 382.85 L211.82 382.76 L213.26 382.67 L214.7 382.58 L216.14 382.49 L217.58 382.4 L219.02 382.31 L220.46 382.22 L221.9 382.13 L223.34 382.04 L224.78 381.95 L226.22 381.86 L227.65 381.77 L229.09 381.68 L230.53 381.58 L231.97 381.49 L233.41 381.39 L234.85 381.29 L236.29 381.18 L237.73 381.07 L239.17 380.96 L240.61 380.85 L242.05 380.73 L243.49 380.62 L244.93 380.5 L246.36 380.39 L247.8 380.29 L249.24 380.19 L250.68 380.08 L252.12 379.98 L253.56 379.89 L255 379.79 L256.44 379.69 L257.88 379.6 L259.32 379.5 L260.76 379.41 L262.2 379.32 L263.64 379.22 L265.07 379.13 L266.51 379.04 L267.95 378.96 L269.39 378.87 L270.83 378.78 L272.27 378.69 L273.71 378.6 L275.15 378.51 L276.59 378.42 L278.03 378.33 L279.47 378.25 L280.91 378.16 L282.35 378.07 L283.78 377.98 L285.22 377.89 L286.66 377.8 L288.1 377.71 L289.54 377.61 L290.98 377.51 L292.42 377.41 L293.86 377.31 L295.3 377.2 L296.74 377.09 L298.18 376.99 L299.62 376.89 L301.06 376.79 L302.49 376.7 L303.93 376.61 L305.37 376.53 L306.81 376.45 L308.25 376.37 L309.69 376.3 L311.13 376.22 L312.57 376.15 L314.01 376.07 L315.45 376 L316.89 375.92 L318.33 375.84 L319.77 375.76 L321.2 375.68 L322.64 375.6 L324.08 375.52 L325.52 375.44 L326.96 375.36 L328.4 375.27 L329.84 375.19 L331.28 375.1 L332.72 375 L334.16 374.9 L335.6 374.8 L337.04 374.7 L338.48 374.6 L339.91 374.5 L341.35 374.4 L342.79 374.3 L344.23 374.21 L345.67 374.13 L347.11 374.05 L348.55 373.96 L349.99 373.89 L351.43 373.81 L352.87 373.73 L354.31 373.65 L355.75 373.57 L357.19 373.48 L358.62 373.4 L360.06 373.31 L361.5 373.22 L362.94 373.13 L364.38 373.04 L365.82 372.95 L367.26 372.86 L368.7 372.77 L370.14 372.68 L371.58 372.59 L373.02 372.5 L374.46 372.41 L375.9 372.32 L377.33 372.23 L378.77 372.14 L380.21 372.06 L381.65 371.97 L383.09 371.89 L384.53 371.81 L385.97 371.73 L387.41 371.66 L388.85 371.58 L390.29 371.51 L391.73 371.45 L393.17 371.38 L394.6 371.31 L396.04 371.24 L397.48 371.16 L398.92 371.09 L400.36 371.01 L401.8 370.94 L403.24 370.86 L404.68 370.78 L406.12 370.7 L407.56 370.62 L409 370.54 L410.44 370.46 L411.88 370.37 L413.31 370.29 L414.75 370.2 L416.19 370.1 L417.63 370.01 L419.07 369.91 L420.51 369.82 L421.95 369.72 L423.39 369.63 L424.83 369.54 L426.27 369.46 L427.71 369.38 L429.15 369.31 L430.59 369.24 L432.02 369.16 L433.46 369.09 L434.9 369.02 L436.34 368.95 L437.78 368.88 L439.22 368.81 L440.66 368.73 L442.1 368.65 L443.54 368.57 L444.98 368.48 L446.42 368.4 L447.86 368.32 L449.3 368.23 L450.73 368.15 L452.17 368.07 L453.61 367.99 L455.05 367.92 L456.49 367.84 L457.93 367.77 L459.37 367.7 L460.81 367.63 L462.25 367.56 L463.69 367.49 L465.13 367.41 L466.57 367.34 L468.01 367.26 L469.44 367.18 L470.88 367.1 L472.32 367.01 L473.76 366.93 L475.2 366.84 L476.64 366.76 L478.08 366.68 L479.52 366.6 L480.96 366.53 L482.4 366.45 L483.84 366.39 L485.28 366.32 L486.72 366.26 L488.15 366.19 L489.59 366.13 L491.03 366.07 L492.47 366 L493.91 365.94 L495.35 365.87 L496.79 365.81 L498.23 365.75 L499.67 365.68 L501.11 365.62 L502.55 365.55 L503.99 365.49 L505.43 365.42 L506.86 365.36 L508.3 365.29 L509.74 365.22 L511.18 365.15 L512.62 365.08 L514.06 365 L515.5 364.93 L516.94 364.85 L518.38 364.78 L519.82 364.7 L521.26 364.63 L522.7 364.56 L524.14 364.48 L525.57 364.41 L527.01 364.33 L528.45 364.26 L529.89 364.18 L531.33 364.11 L532.77 364.04 L534.21 363.97 L535.65 363.9 L537.09 363.83 L538.53 363.76 L539.97 363.7 L541.41 363.63 L542.85 363.57 L544.28 363.5 L545.72 363.44 L547.16 363.38 L548.6 363.31 L550.04 363.24 L551.48 363.18 L552.92 363.11 L554.36 363.04 L555.8 362.97 L557.24 362.9 L558.68 362.84 L560.12 362.77 L561.56 362.7 L562.99 362.63 L564.43 362.56 L565.87 362.49 L567.31 362.42 L568.75 362.35 L570.19 362.28 L571.63 362.21 L573.07 362.14 L574.51 362.07 L575.95 362 L577.39 361.93 L578.83 361.86 L580.27 361.8 L581.7 361.73 L583.14 361.67 L584.58 361.6 L586.02 361.54 L587.46 361.47 L588.9 361.41 L590.34 361.34 L591.78 361.28 L593.22 361.21 L594.66 361.15 L596.1 361.08 L597.54 361.02 L598.98 360.95 L600.41 360.89 L601.85 360.82 L603.29 360.76 L604.73 360.69 L606.17 360.63 L607.61 360.56 L609.05 360.5 L610.49 360.44 L611.93 360.37 L613.37 360.31 L614.81 360.25 L616.25 360.18 L617.69 360.12 L619.12 360.06 L620.56 360 L622 359.94 L623.44 359.88 L624.88 359.83 L626.32 359.77 L627.76 359.71 L629.2 359.65 L630.64 359.59 L632.08 359.53 L633.52 359.47 L634.96 359.41 L636.4 359.34 L637.83 359.28 L639.27 359.21 L640.71 359.15 L642.15 359.08 L643.59 359.02 L645.03 358.96 L646.47 358.9 L647.91 358.84 L649.35 358.78 L650.79 358.73 L652.23 358.67 L653.67 358.61 L655.11 358.56 L656.54 358.5 L657.98 358.45 L659.42 358.39 L660.86 358.34 L662.3 358.29 L663.74 358.24 L665.18 358.19 L666.62 358.14 L668.06 358.08 L669.5 358.03 L670.94 357.98 L672.38 357.92 L673.82 357.86 L675.25 357.8 L676.69 357.74 L678.13 357.67 L679.57 357.6 L681.01 357.53 L682.45 357.46 L683.89 357.4 L685.33 357.33 L686.77 357.26 L688.21 357.2 L689.65 357.13 L691.09 357.07 L692.53 357 L693.96 356.94 L695.4 356.87 L696.84 356.81 L698.28 356.75 L699.72 356.7 L701.16 356.65 L702.6 356.6 L704.04 356.55 L705.48 356.5 L706.92 356.46 L708.36 356.41 L709.8 356.37 L711.24 356.32 L712.67 356.27 L714.11 356.22 L715.55 356.17 L716.99 356.11 L718.43 356.05 L719.87 356 L721.31 355.94 L722.75 355.87 L724.19 355.81 L725.63 355.75 L727.07 355.69 L728.51 355.62 L729.95 355.56 L731.38 355.49 L732.82 355.43 L734.26 355.36 L735.7 355.29 L737.14 355.22 L738.58 355.16 L740.02 355.09 L741.46 355.02 L742.9 354.96 L744.34 354.89 L745.78 354.82 L747.22 354.75 L748.66 354.69 L750.09 354.62 L751.53 354.56 L752.97 354.49 L754.41 354.43 L755.85 354.37 L757.29 354.31 L758.73 354.26 L760.17 354.2 L761.61 354.15 L763.05 354.1 L764.49 354.04 L765.93 353.99 L767.37 353.94 L768.8 353.89 L770.24 353.84 L771.68 353.78 L773.12 353.73 L774.56 353.68 L776 353.63 L777.44 353.58 L778.88 353.53 L780.32 353.48 L781.76 353.43 L783.2 353.37 L784.64 353.32 L785.5 353.27" fill="none" stroke="#0a0a0a" stroke-width="2.1" stroke-dasharray="6.8 6.9" stroke-dashoffset="-0.3" stroke-linejoin="round"/>
<g fill="#606060">
<circle cx="67.9" cy="539.8" r="1.15"/>
<circle cx="74.46" cy="539.8" r="1.15"/>
<circle cx="81.01" cy="539.8" r="1.15"/>
<circle cx="87.57" cy="539.8" r="1.15"/>
<circle cx="94.12" cy="539.8" r="1.15"/>
<circle cx="100.68" cy="539.8" r="1.15"/>
<circle cx="107.23" cy="539.8" r="1.15"/>
<circle cx="113.79" cy="539.8" r="1.15"/>
<circle cx="120.34" cy="539.8" r="1.15"/>
<circle cx="126.9" cy="539.8" r="1.15"/>
<circle cx="133.46" cy="539.8" r="1.15"/>
<circle cx="140.01" cy="539.8" r="1.15"/>
<circle cx="146.57" cy="539.8" r="1.15"/>
<circle cx="153.12" cy="539.62" r="1.15"/>
<circle cx="159.68" cy="539.08" r="1.15"/>
<circle cx="166.23" cy="538.36" r="1.15"/>
<circle cx="172.79" cy="537.82" r="1.15"/>
<circle cx="179.35" cy="537.21" r="1.15"/>
<circle cx="185.9" cy="536.56" r="1.15"/>
<circle cx="192.46" cy="535.86" r="1.15"/>
<circle cx="199.01" cy="535.12" r="1.15"/>
<circle cx="205.57" cy="534.32" r="1.15"/>
<circle cx="212.12" cy="533.5" r="1.15"/>
<circle cx="218.68" cy="532.7" r="1.15"/>
<circle cx="225.23" cy="531.88" r="1.15"/>
<circle cx="231.79" cy="530.94" r="1.15"/>
<circle cx="238.35" cy="530.08" r="1.15"/>
<circle cx="244.9" cy="529.55" r="1.15"/>
<circle cx="251.46" cy="529" r="1.15"/>
<circle cx="258.01" cy="527.96" r="1.15"/>
<circle cx="264.57" cy="526.84" r="1.15"/>
<circle cx="271.12" cy="526.1" r="1.15"/>
<circle cx="277.68" cy="525.4" r="1.15"/>
<circle cx="284.23" cy="524.53" r="1.15"/>
<circle cx="290.79" cy="523.6" r="1.15"/>
<circle cx="297.35" cy="522.68" r="1.15"/>
<circle cx="303.9" cy="521.8" r="1.15"/>
<circle cx="310.46" cy="521" r="1.15"/>
<circle cx="317.01" cy="520.36" r="1.15"/>
<circle cx="323.57" cy="520" r="1.15"/>
<circle cx="330.12" cy="519.28" r="1.15"/>
<circle cx="336.68" cy="518.46" r="1.15"/>
<circle cx="343.24" cy="517.58" r="1.15"/>
<circle cx="349.79" cy="516.68" r="1.15"/>
<circle cx="356.35" cy="515.79" r="1.15"/>
<circle cx="362.9" cy="514.96" r="1.15"/>
<circle cx="369.46" cy="514.19" r="1.15"/>
<circle cx="376.01" cy="513.45" r="1.15"/>
<circle cx="382.57" cy="512.74" r="1.15"/>
<circle cx="389.12" cy="512.05" r="1.15"/>
<circle cx="395.68" cy="511.36" r="1.15"/>
<circle cx="402.24" cy="510.69" r="1.15"/>
<circle cx="408.79" cy="510.03" r="1.15"/>
<circle cx="415.35" cy="509.39" r="1.15"/>
<circle cx="421.9" cy="508.76" r="1.15"/>
<circle cx="428.46" cy="508.12" r="1.15"/>
<circle cx="435.01" cy="507.45" r="1.15"/>
<circle cx="441.57" cy="506.76" r="1.15"/>
<circle cx="448.12" cy="506.12" r="1.15"/>
<circle cx="454.68" cy="505.6" r="1.15"/>
<circle cx="461.24" cy="505.24" r="1.15"/>
<circle cx="467.79" cy="504.88" r="1.15"/>
<circle cx="474.35" cy="504.52" r="1.15"/>
<circle cx="480.9" cy="504.16" r="1.15"/>
<circle cx="487.46" cy="503.8" r="1.15"/>
<circle cx="494.01" cy="503.44" r="1.15"/>
<circle cx="500.57" cy="503.09" r="1.15"/>
<circle cx="507.13" cy="502.74" r="1.15"/>
<circle cx="513.68" cy="502.38" r="1.15"/>
<circle cx="520.24" cy="502.02" r="1.15"/>
<circle cx="526.79" cy="501.64" r="1.15"/>
<circle cx="533.35" cy="501.24" r="1.15"/>
<circle cx="539.9" cy="500.83" r="1.15"/>
<circle cx="546.46" cy="500.4" r="1.15"/>
<circle cx="553.01" cy="499.95" r="1.15"/>
<circle cx="559.57" cy="499.48" r="1.15"/>
<circle cx="566.13" cy="499" r="1.15"/>
<circle cx="572.68" cy="498.49" r="1.15"/>
<circle cx="579.24" cy="497.94" r="1.15"/>
<circle cx="585.79" cy="497.32" r="1.15"/>
<circle cx="592.35" cy="496.41" r="1.15"/>
<circle cx="598.9" cy="495.37" r="1.15"/>
<circle cx="605.46" cy="494.8" r="1.15"/>
<circle cx="612.01" cy="494.69" r="1.15"/>
<circle cx="618.57" cy="494.62" r="1.15"/>
<circle cx="625.13" cy="494.54" r="1.15"/>
<circle cx="631.68" cy="494.44" r="1.15"/>
<circle cx="638.24" cy="494.12" r="1.15"/>
<circle cx="644.79" cy="493.61" r="1.15"/>
<circle cx="651.35" cy="492.94" r="1.15"/>
<circle cx="657.9" cy="492.21" r="1.15"/>
<circle cx="664.46" cy="491.59" r="1.15"/>
<circle cx="671.02" cy="491.02" r="1.15"/>
<circle cx="677.57" cy="490.48" r="1.15"/>
<circle cx="684.13" cy="489.97" r="1.15"/>
<circle cx="690.68" cy="489.47" r="1.15"/>
<circle cx="697.24" cy="488.97" r="1.15"/>
<circle cx="703.79" cy="488.5" r="1.15"/>
<circle cx="710.35" cy="488.11" r="1.15"/>
<circle cx="716.9" cy="487.77" r="1.15"/>
<circle cx="723.46" cy="487.42" r="1.15"/>
<circle cx="730.02" cy="487.07" r="1.15"/>
<circle cx="736.57" cy="486.73" r="1.15"/>
<circle cx="743.13" cy="486.38" r="1.15"/>
<circle cx="749.68" cy="486.02" r="1.15"/>
<circle cx="756.24" cy="485.62" r="1.15"/>
<circle cx="762.79" cy="485.18" r="1.15"/>
<circle cx="769.35" cy="484.7" r="1.15"/>
<circle cx="775.9" cy="484.18" r="1.15"/>
<circle cx="782.46" cy="483.64" r="1.15"/>
</g>
<path d="M67.9 543.4 L70.08 543.27 L72.26 543.19 L74.45 543.14 L76.63 543.09 L78.81 543.05 L80.99 543.01 L83.17 542.98 L85.36 542.95 L87.54 542.92 L89.72 542.9 L91.9 542.88 L94.08 542.85 L96.26 542.83 L98.45 542.81 L100.63 542.78 L102.81 542.75 L104.99 542.72 L107.17 542.68 L109.36 542.64 L111.54 542.61 L113.72 542.58 L115.9 542.54 L118.08 542.51 L120.27 542.48 L122.45 542.44 L124.63 542.4 L126.81 542.36 L128.99 542.31 L131.17 542.26 L133.36 542.2 L135.54 542.13 L137.72 542.05 L139.9 541.96 L142.08 541.81 L144.27 541.56 L146.45 541.26 L148.63 540.87 L150.81 540.37 L152.99 539.81 L155.18 539.25 L157.36 538.66 L159.54 538.03 L161.72 537.37 L163.9 536.68 L166.08 535.95 L168.27 535.16 L170.45 534.33 L172.63 533.48 L174.81 532.62 L176.99 531.78 L179.18 530.97 L181.36 530.2 L183.54 529.45 L185.72 528.7 L187.9 527.98 L190.09 527.27 L192.27 526.59 L194.45 525.94 L196.63 525.32 L198.81 524.69 L200.99 524.07 L203.18 523.47 L205.36 522.9 L207.54 522.38 L209.72 521.9 L211.9 521.48 L214.09 521.11 L216.27 520.76 L218.45 520.43 L220.63 520.12 L222.81 519.85 L225 519.6 L227.18 519.39 L229.36 519.21 L231.54 519.05 L233.72 518.9 L235.9 518.76 L238.09 518.63 L240.27 518.52 L242.45 518.44 L244.63 518.39 L246.81 518.35 L249 518.31 L251.18 518.28 L253.36 518.25 L255.54 518.23 L257.72 518.21 L259.91 518.2 L262.09 518.2 L264.27 518.2 L266.45 518.2 L268.63 518.2 L270.81 518.2 L273 518.2 L275.18 518.2 L277.36 518.2 L279.54 518.2 L281.72 518.19 L283.91 518.18 L286.09 518.16 L288.27 518.13 L290.45 518.1 L292.63 518.07 L294.82 518.03 L297 517.98 L299.18 517.9 L301.36 517.8 L303.54 517.67 L305.72 517.53 L307.91 517.38 L310.09 517.23 L312.27 517.09 L314.45 516.93 L316.63 516.76 L318.82 516.59 L321 516.4 L323.18 516.22 L325.36 516.04 L327.54 515.86 L329.73 515.67 L331.91 515.47 L334.09 515.27 L336.27 515.07 L338.45 514.86 L340.63 514.65 L342.82 514.45 L345 514.25 L347.18 514.06 L349.36 513.87 L351.54 513.69 L353.73 513.53 L355.91 513.38 L358.09 513.24 L360.27 513.13 L362.45 513.01 L364.64 512.9 L366.82 512.78 L369 512.67 L371.18 512.55 L373.36 512.45 L375.54 512.35 L377.73 512.25 L379.91 512.17 L382.09 512.09 L384.27 512.03 L386.45 511.97 L388.64 511.93 L390.82 511.91 L393 511.9 L395.18 511.9 L397.36 511.9 L399.55 511.9 L401.73 511.9 L403.91 511.9 L406.09 511.9 L408.27 511.9 L410.46 511.9 L412.64 511.93 L414.82 511.97 L417 512.02 L419.18 512.07 L421.36 512.13 L423.55 512.17 L425.73 512.19 L427.91 512.18 L430.09 512.17 L432.27 512.14 L434.46 512.1 L436.64 512.05 L438.82 512 L441 511.95 L443.18 511.89 L445.37 511.83 L447.55 511.76 L449.73 511.68 L451.91 511.6 L454.09 511.51 L456.27 511.41 L458.46 511.3 L460.64 511.19 L462.82 511.06 L465 510.92 L467.18 510.78 L469.37 510.62 L471.55 510.46 L473.73 510.3 L475.91 510.13 L478.09 509.96 L480.28 509.79 L482.46 509.62 L484.64 509.46 L486.82 509.29 L489 509.14 L491.18 508.99 L493.37 508.84 L495.55 508.7 L497.73 508.55 L499.91 508.4 L502.09 508.26 L504.28 508.11 L506.46 507.97 L508.64 507.83 L510.82 507.69 L513 507.55 L515.19 507.41 L517.37 507.27 L519.55 507.14 L521.73 507 L523.91 506.88 L526.09 506.75 L528.28 506.63 L530.46 506.51 L532.64 506.39 L534.82 506.27 L537 506.16 L539.19 506.05 L541.37 505.93 L543.55 505.82 L545.73 505.71 L547.91 505.6 L550.1 505.48 L552.28 505.36 L554.46 505.24 L556.64 505.12 L558.82 504.99 L561 504.86 L563.19 504.73 L565.37 504.61 L567.55 504.48 L569.73 504.35 L571.91 504.21 L574.1 504.08 L576.28 503.94 L578.46 503.8 L580.64 503.65 L582.82 503.5 L585.01 503.34 L587.19 503.17 L589.37 503.01 L591.55 502.83 L593.73 502.65 L595.91 502.46 L598.1 502.26 L600.28 502.04 L602.46 501.81 L604.64 501.56 L606.82 501.28 L609.01 500.95 L611.19 500.58 L613.37 500.18 L615.55 499.76 L617.73 499.34 L619.92 498.93 L622.1 498.54 L624.28 498.14 L626.46 497.74 L628.64 497.34 L630.82 496.94 L633.01 496.55 L635.19 496.18 L637.37 495.83 L639.55 495.51 L641.73 495.2 L643.92 494.9 L646.1 494.61 L648.28 494.34 L650.46 494.07 L652.64 493.82 L654.83 493.59 L657.01 493.37 L659.19 493.16 L661.37 492.96 L663.55 492.78 L665.73 492.6 L667.92 492.42 L670.1 492.23 L672.28 492.05 L674.46 491.85 L676.64 491.66 L678.83 491.46 L681.01 491.27 L683.19 491.08 L685.37 490.9 L687.55 490.74 L689.74 490.59 L691.92 490.46 L694.1 490.33 L696.28 490.21 L698.46 490.09 L700.64 489.98 L702.83 489.87 L705.01 489.76 L707.19 489.66 L709.37 489.57 L711.55 489.48 L713.74 489.39 L715.92 489.3 L718.1 489.21 L720.28 489.12 L722.46 489.03 L724.65 488.93 L726.83 488.83 L729.01 488.73 L731.19 488.63 L733.37 488.53 L735.55 488.43 L737.74 488.33 L739.92 488.23 L742.1 488.12 L744.28 488.01 L746.46 487.9 L748.65 487.79 L750.83 487.68 L753.01 487.56 L755.19 487.44 L757.37 487.32 L759.56 487.19 L761.74 487.06 L763.92 486.93 L766.1 486.79 L768.28 486.65 L770.47 486.51 L772.65 486.37 L774.83 486.22 L777.01 486.07 L779.19 485.91 L781.37 485.76 L783.56 485.6 L785.5 485.44" fill="none" stroke="#383838" stroke-width="2.3" stroke-linejoin="round"/>
<path d="M67.9 543.4 L69.7 545.22 L71.5 546.68 L73.3 547.86 L75.1 548.53 L76.9 549.05 L78.69 549.32 L80.49 549.38 L82.29 549.41 L84.09 549.45 L85.89 549.47 L87.69 549.49 L89.49 549.51 L91.29 549.51 L93.09 549.52 L94.89 549.52 L96.69 549.52 L98.48 549.51 L100.28 549.5 L102.08 549.48 L103.88 549.47 L105.68 549.45 L107.48 549.43 L109.28 549.4 L111.08 549.38 L112.88 549.35 L114.68 549.33 L116.48 549.29 L118.27 549.25 L120.07 549.2 L121.87 549.14 L123.67 549.08 L125.47 549.01 L127.27 548.95 L129.07 548.87 L130.87 548.8 L132.67 548.72 L134.47 548.64 L136.27 548.55 L138.06 548.45 L139.86 548.34 L141.66 548.21 L143.46 548.06 L145.26 547.87 L147.06 547.61 L148.86 547.31 L150.66 546.97 L152.46 546.54 L154.26 546.03 L156.06 545.49 L157.85 544.97 L159.65 544.44 L161.45 543.9 L163.25 543.35 L165.05 542.8 L166.85 542.26 L168.65 541.71 L170.45 541.16 L172.25 540.61 L174.05 540.06 L175.85 539.5 L177.64 538.95 L179.44 538.38 L181.24 537.81 L183.04 537.24 L184.84 536.66 L186.64 536.08 L188.44 535.49 L190.24 534.91 L192.04 534.32 L193.84 533.73 L195.64 533.13 L197.43 532.5 L199.23 531.88 L201.03 531.32 L202.83 530.87 L204.63 530.46 L206.43 530.08 L208.23 529.73 L210.03 529.4 L211.83 529.09 L213.63 528.78 L215.43 528.48 L217.22 528.17 L219.02 527.86 L220.82 527.54 L222.62 527.22 L224.42 526.91 L226.22 526.6 L228.02 526.31 L229.82 526.04 L231.62 525.78 L233.42 525.55 L235.22 525.33 L237.01 525.12 L238.81 524.92 L240.61 524.73 L242.41 524.56 L244.21 524.38 L246.01 524.22 L247.81 524.06 L249.61 523.91 L251.41 523.76 L253.21 523.62 L255.01 523.49 L256.8 523.36 L258.6 523.24 L260.4 523.13 L262.2 523.03 L264 522.92 L265.8 522.83 L267.6 522.73 L269.4 522.64 L271.2 522.55 L273 522.46 L274.8 522.38 L276.59 522.3 L278.39 522.22 L280.19 522.14 L281.99 522.06 L283.79 521.97 L285.59 521.87 L287.39 521.77 L289.19 521.65 L290.99 521.51 L292.79 521.37 L294.59 521.21 L296.38 521.05 L298.18 520.89 L299.98 520.72 L301.78 520.54 L303.58 520.34 L305.38 520.13 L307.18 519.92 L308.98 519.7 L310.78 519.49 L312.58 519.29 L314.38 519.11 L316.17 518.94 L317.97 518.77 L319.77 518.61 L321.57 518.46 L323.37 518.29 L325.17 518.12 L326.97 517.94 L328.77 517.74 L330.57 517.52 L332.37 517.3 L334.17 517.08 L335.96 516.86 L337.76 516.65 L339.56 516.46 L341.36 516.28 L343.16 516.13 L344.96 515.99 L346.76 515.87 L348.56 515.74 L350.36 515.62 L352.16 515.49 L353.96 515.35 L355.75 515.21 L357.55 515.05 L359.35 514.9 L361.15 514.73 L362.95 514.57 L364.75 514.39 L366.55 514.22 L368.35 514.04 L370.15 513.85 L371.95 513.65 L373.75 513.45 L375.54 513.24 L377.34 513.03 L379.14 512.82 L380.94 512.62 L382.74 512.42 L384.54 512.22 L386.34 512.01 L388.14 511.81 L389.94 511.6 L391.74 511.41 L393.54 511.23 L395.33 511.08 L397.13 510.94 L398.93 510.83 L400.73 510.73 L402.53 510.63 L404.33 510.54 L406.13 510.46 L407.93 510.36 L409.73 510.26 L411.53 510.16 L413.33 510.06 L415.12 509.95 L416.92 509.84 L418.72 509.74 L420.52 509.63 L422.32 509.52 L424.12 509.41 L425.92 509.29 L427.72 509.19 L429.52 509.08 L431.32 508.97 L433.12 508.86 L434.92 508.73 L436.71 508.6 L438.51 508.46 L440.31 508.29 L442.11 508.09 L443.91 507.87 L445.71 507.64 L447.51 507.42 L449.31 507.23 L451.11 507.06 L452.91 506.93 L454.71 506.82 L456.5 506.72 L458.3 506.63 L460.1 506.54 L461.9 506.44 L463.7 506.33 L465.5 506.21 L467.3 506.08 L469.1 505.94 L470.9 505.8 L472.7 505.65 L474.5 505.5 L476.29 505.34 L478.09 505.19 L479.89 505.03 L481.69 504.88 L483.49 504.73 L485.29 504.58 L487.09 504.43 L488.89 504.3 L490.69 504.16 L492.49 504.04 L494.29 503.91 L496.08 503.79 L497.88 503.67 L499.68 503.56 L501.48 503.44 L503.28 503.33 L505.08 503.22 L506.88 503.11 L508.68 503 L510.48 502.89 L512.28 502.78 L514.08 502.66 L515.87 502.55 L517.67 502.44 L519.47 502.33 L521.27 502.21 L523.07 502.1 L524.87 501.98 L526.67 501.87 L528.47 501.75 L530.27 501.64 L532.07 501.53 L533.87 501.41 L535.66 501.3 L537.46 501.18 L539.26 501.07 L541.06 500.95 L542.86 500.84 L544.66 500.72 L546.46 500.6 L548.26 500.49 L550.06 500.37 L551.86 500.26 L553.66 500.15 L555.45 500.03 L557.25 499.92 L559.05 499.81 L560.85 499.7 L562.65 499.58 L564.45 499.46 L566.25 499.34 L568.05 499.21 L569.85 499.08 L571.65 498.95 L573.45 498.8 L575.24 498.66 L577.04 498.5 L578.84 498.33 L580.64 498.16 L582.44 497.98 L584.24 497.79 L586.04 497.59 L587.84 497.39 L589.64 497.17 L591.44 496.93 L593.24 496.67 L595.03 496.4 L596.83 496.12 L598.63 495.84 L600.43 495.55 L602.23 495.27 L604.03 495 L605.83 494.75 L607.63 494.5 L609.43 494.27 L611.23 494.04 L613.03 493.81 L614.82 493.58 L616.62 493.34 L618.42 493.11 L620.22 492.87 L622.02 492.62 L623.82 492.35 L625.62 492.08 L627.42 491.79 L629.22 491.51 L631.02 491.22 L632.82 490.93 L634.61 490.65 L636.41 490.38 L638.21 490.12 L640.01 489.87 L641.81 489.63 L643.61 489.38 L645.41 489.14 L647.21 488.91 L649.01 488.68 L650.81 488.46 L652.61 488.25 L654.4 488.05 L656.2 487.87 L658 487.69 L659.8 487.52 L661.6 487.36 L663.4 487.21 L665.2 487.06 L667 486.91 L668.8 486.76 L670.6 486.61 L672.4 486.46 L674.19 486.3 L675.99 486.15 L677.79 485.99 L679.59 485.84 L681.39 485.69 L683.19 485.53 L684.99 485.38 L686.79 485.24 L688.59 485.09 L690.39 484.95 L692.19 484.8 L693.98 484.66 L695.78 484.52 L697.58 484.38 L699.38 484.24 L701.18 484.1 L702.98 483.97 L704.78 483.84 L706.58 483.72 L708.38 483.6 L710.18 483.48 L711.98 483.36 L713.77 483.25 L715.57 483.14 L717.37 483.03 L719.17 482.92 L720.97 482.81 L722.77 482.7 L724.57 482.6 L726.37 482.5 L728.17 482.41 L729.97 482.32 L731.77 482.23 L733.56 482.14 L735.36 482.05 L737.16 481.96 L738.96 481.87 L740.76 481.78 L742.56 481.69 L744.36 481.6 L746.16 481.5 L747.96 481.41 L749.76 481.3 L751.56 481.2 L753.35 481.09 L755.15 480.97 L756.95 480.85 L758.75 480.72 L760.55 480.58 L762.35 480.44 L764.15 480.3 L765.95 480.15 L767.75 480 L769.55 479.84 L771.35 479.67 L773.14 479.51 L774.94 479.34 L776.74 479.16 L778.54 478.98 L780.34 478.8 L782.14 478.62 L783.94 478.43 L785.5 478.24" fill="none" stroke="#0a0a0a" stroke-width="2.2" stroke-dasharray="6.8 6.9" stroke-dashoffset="-0.8" stroke-linejoin="round"/>
<g fill="#151515" stroke="#151515" stroke-width="0.3">
<g font-size="26.3" font-weight="bold" fill="#000" stroke="none">
<text transform="translate(0.1 19.1) scale(1 1.05)">A</text>
<text transform="translate(0.2 156.7) scale(1 1.05)">B</text>
<text transform="translate(0 318.6) scale(1 1.05)">C</text>
<text transform="translate(0.3 466.8) scale(1 1.05)">D</text>
</g>
<text x="82.3" y="38.8" font-size="18.7">Subject #3</text>
<text x="427.1" y="605.5" font-size="15.5" text-anchor="middle">Time (min)</text>
<text transform="translate(40.8 95.2) rotate(-90)" font-size="15.6">A<tspan font-size="12.4" dy="7.6">C</tspan><tspan dy="-7.6" dx="1"> Levels</tspan></text>
<text transform="translate(25.1 269) rotate(-90)" font-size="15.6" letter-spacing="0.15">H<tspan font-size="12.4" dy="7.2">R</tspan><tspan dy="-7.2"> (beats/min)</tspan></text>
<text transform="translate(33.2 385.8) rotate(-90)" font-size="15.4">T<tspan font-size="12.4" dy="7">S</tspan><tspan dy="-7" dx="-0.8"> (</tspan><tspan font-size="12.4" dy="-5.8">o</tspan><tspan dy="5.8">C)</tspan></text>
<text transform="translate(33.2 536.8) rotate(-90)" font-size="15.4">T<tspan font-size="12.4" dy="7">C</tspan><tspan dy="-7" dx="-0.5"> (</tspan><tspan font-size="12.4" dy="-5.8">o</tspan><tspan dy="5.8" dx="0.6">C)</tspan></text>
<g font-size="14.2">
<text x="655.6" y="211.3">Measured data</text>
<text x="655.6" y="226.9">Model with T<tspan font-size="11.2" dy="3.6">S</tspan></text>
<text x="655.6" y="242.3">Model without T<tspan font-size="11.2" dy="3.6">S</tspan></text>
</g>
<g font-size="13">
<text x="668.1" y="521.5">RMSE = 0.15<tspan stroke="none">°</tspan>C</text>
<text x="668.1" y="536.9">RMSE = 0.12<tspan stroke="none">°</tspan>C</text>
</g>
</g>
<g fill="#6a6a6a">
<circle cx="638.1" cy="206.2" r="0.9"/>
<circle cx="641.9" cy="206.2" r="0.9"/>
<circle cx="645.8" cy="206.2" r="0.9"/>
<circle cx="649.8" cy="206.2" r="0.9"/>
</g>
<path d="M635.2 220.8H651" stroke="#383838" stroke-width="1.5"/>
<path d="M635.2 235.9H641.6M645.4 235.9H651" stroke="#0a0a0a" stroke-width="1.75"/>
<path d="M649 516.5H664.7" stroke="#383838" stroke-width="1.5"/>
<path d="M649 531.6H654.9M659.4 531.6H664.7" stroke="#0a0a0a" stroke-width="1.8"/>
</g>
</svg>
</body>
</html>
